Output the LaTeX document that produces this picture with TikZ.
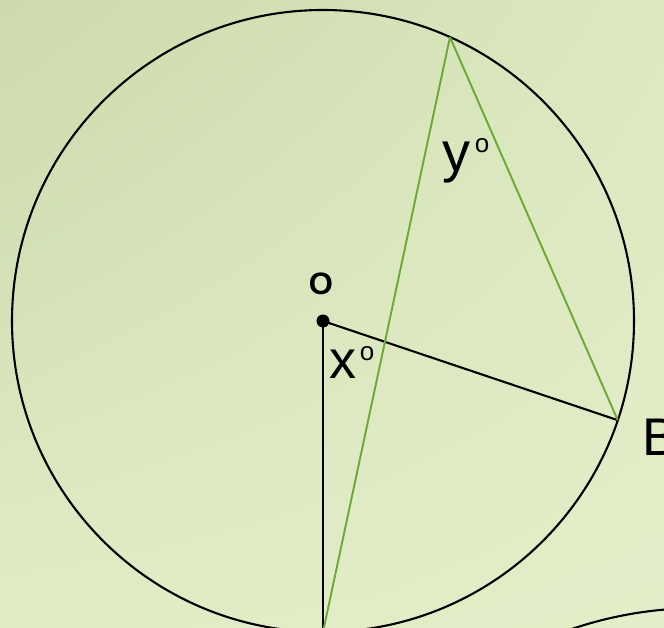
\documentclass[tikz,border=0pt]{standalone}
\usepackage{fontspec}
\setmainfont{Liberation Sans}
\usetikzlibrary{shadings}
\begin{document}
\begin{tikzpicture}[x=1pt,y=1pt,
  circ/.style={draw=black,line width=2.1pt},
  blk/.style={draw=black,line width=2.1pt},
  grn/.style={draw=chordgreen,line width=1.9pt},
  lbl/.style={inner sep=0pt,text=black}]
\definecolor{chordgreen}{RGB}{104,170,52}
\definecolor{bgA}{RGB}{204,218,172}
\definecolor{bgB}{RGB}{220,232,192}
\definecolor{bgC}{RGB}{224,236,198}
\definecolor{bgD}{RGB}{228,238,202}
\useasboundingbox (0,0) rectangle (664,627);
\clip (0,0) rectangle (664,627);
\shade[upper left=bgA, upper right=bgB, lower left=bgC, lower right=bgD] (0,0) rectangle (664,627);
% centre and points on the circle
\coordinate (C) at (323,306);
\coordinate (T) at ([shift={(65.9:311)}]C);
\coordinate (B) at ([shift={(-18.6:311)}]C);
\coordinate (D) at ([shift={(-90:311)}]C);
\draw[circ] (C) circle (311);
% second circle, bottom right
\coordinate (C2) at (700,-381);
\draw[circ] (C2) circle (400);
% radii
\draw[blk] (C) -- (D);
\draw[blk] (C) -- (B);
% chords
\draw[grn] (T) -- (D);
\draw[grn] (T) -- (B);
\fill[black] (C) circle (6.5);
% labels
\node[lbl,font=\fontsize{31}{31}\selectfont\bfseries] (lo) at (321,343) {O};
\node[lbl,font=\fontsize{54}{54}\selectfont,anchor=west] (lx) at (329,263) {x};
\node[lbl,font=\fontsize{26}{26}\selectfont] (lxo) at (367,273) {o};
\node[lbl,font=\fontsize{56}{56}\selectfont,anchor=west] (ly) at (442,464.5) {y};
\node[lbl,font=\fontsize{26}{26}\selectfont] (lyo) at (482,481) {o};
\node[lbl,font=\fontsize{53}{53}\selectfont,anchor=west] (lb) at (642,190) {B};
\end{tikzpicture}
\end{document}
